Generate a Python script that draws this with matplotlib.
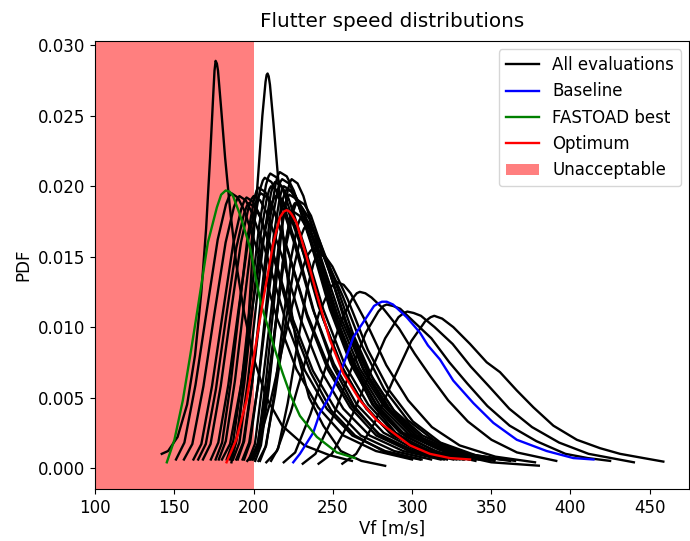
import matplotlib
matplotlib.use("Agg")
import matplotlib.pyplot as plt
from matplotlib.patches import Patch
from matplotlib.lines import Line2D

plt.rcParams['font.size'] = 12

# Unacceptable flutter speed limit [m/s]
vf_limit = 200

# Baseline
baseline_x = [225.0, 229.2, 237.6, 241.8, 248.1, 256.5, 263.0, 271.3, 276.0, 279.0, 281.0, 284.0, 288.0,
              296.6, 305.0, 310.0, 317.6, 326.0, 338.7, 351.3, 366.1, 385.0, 401.8, 414.5]
baseline_y = [0.0004, 0.0010, 0.0025, 0.0039, 0.0051, 0.0073, 0.0093, 0.0107, 0.0115, 0.0117, 0.0118, 0.0118, 0.0116,
              0.0107, 0.0096, 0.0087, 0.0077, 0.0062, 0.0046, 0.0032, 0.0020, 0.0012, 0.0007, 0.0006]

# FASTOAD best
fastoad_x = [145.2, 150.0, 155.3, 160.0, 164.8, 171.1, 176.8, 179.5, 182.4, 185.0, 187.0, 191.3, 197.6, 202.0,
             205.2, 210.2, 214.0, 218.4, 223.5, 229.2, 239.9, 252.5, 263.9]
fastoad_y = [0.0004, 0.0020, 0.0048, 0.0080, 0.0114, 0.0160, 0.0185, 0.0194, 0.0197, 0.0196, 0.0193, 0.0180, 0.0157, 0.0131,
             0.0114, 0.0096, 0.0082, 0.0067, 0.0051, 0.0037, 0.0022, 0.0011, 0.0007]

# Optimum
optimum_x = [182.9, 189.0, 195.5, 201.0, 206.0, 212.3, 216.6, 219.0, 220.8, 222.6, 224.0, 227.1, 233.4, 239.7, 248.1,
             256.6, 267.1, 277.6, 288.1, 298.7, 311.3, 323.9, 336.6]
optimum_y = [0.0004, 0.0020, 0.0048, 0.0085, 0.0119, 0.0159, 0.0178, 0.0182, 0.0183, 0.0182, 0.0180, 0.0174, 0.0150, 0.0124, 0.0091,
             0.0067, 0.0048, 0.0034, 0.0025, 0.0016, 0.0010, 0.0007, 0.0006]

# All evaluations (one x/y pair per evaluation)
eval_a_x = [142, 146, 152, 158, 163, 167, 170, 172.5, 174.5, 175.3, 176, 176.8, 177.5, 179.5, 182, 185, 189, 194,
            200, 208, 218, 232, 248, 262]
eval_a_y = [.0010, .0012, .0022, .0045, .0080, .0125, .0170, .0220, .0265, .0282, .0289, .0287, .0282, .0255, .0220, .0185, .0145, .0110,
            .0078, .0050, .0030, .0016, .0009, .0005]

eval_b_x = [186, 190, 194, 197, 200, 203, 205.5, 207.5, 208.2, 208.8, 209.5, 210.3, 212.5, 215.5, 219, 223, 228, 235,
            244, 255, 268, 283]
eval_b_y = [.0004, .0025, .0065, .0110, .0165, .0210, .0250, .0274, .0279, .0280, .0278, .0272, .0245, .0205, .0160, .0118, .0080, .0050,
            .0030, .0012, .0005, .00015]

eval_l1_x = [151, 156.3, 163.3, 170.3, 177.3, 182.5, 184.6, 186, 190.0, 194, 203.1, 214.5, 227, 240.7, 256.7, 277.2, 300]
eval_l1_y = [.0006, .0018, .0059, .0111, .0162, .0187, .0193, .0195, .0192, .0183, .0152, .0107, .0070, .0043, .0023, .0012, .0006]

eval_l2_x = [156, 161.3, 168.3, 175.3, 182.3, 187.5, 189.6, 191, 195.0, 199, 208.3, 219.8, 232.4, 246.2, 262.3, 283, 306]
eval_l2_y = [.0006, .0017, .0058, .0110, .0160, .0185, .0191, .0193, .0190, .0181, .0151, .0106, .0069, .0042, .0023, .0012, .0006]

eval_l3_x = [162, 167, 173.7, 180.4, 187.1, 192.2, 194.2, 195.5, 199.6, 203.7, 213, 224.6, 237.4, 251.4, 267.7, 288.7, 312]
eval_l3_y = [.0006, .0017, .0058, .0109, .0159, .0184, .0190, .0192, .0189, .0180, .0150, .0106, .0069, .0042, .0023, .0012, .0006]

eval_n1_x = [165, 169.8, 176.2, 182.6, 189, 193.8, 195.7, 197, 200.8, 204.6, 213.2, 224, 235.9, 248.8, 264, 283.4, 305]
eval_n1_y = [.0006, .0017, .0056, .0107, .0156, .0180, .0186, .0188, .0185, .0177, .0147, .0103, .0068, .0041, .0023, .0011, .0006]

eval_l4_x = [168, 172.8, 179.2, 185.6, 192, 196.8, 198.7, 200, 204.1, 208.3, 217.7, 229.5, 242.5, 256.6, 273.2, 294.4, 318]
eval_l4_y = [.0006, .0017, .0058, .0110, .0160, .0185, .0191, .0193, .0190, .0181, .0151, .0106, .0069, .0042, .0023, .0012, .0006]

eval_l5_x = [173, 177.7, 184, 190.3, 196.6, 201.4, 203.2, 204.5, 208.6, 212.7, 222.1, 233.9, 246.8, 260.9, 277.4, 298.5, 322]
eval_l5_y = [.0006, .0018, .0059, .0111, .0162, .0187, .0193, .0195, .0192, .0183, .0152, .0107, .0070, .0043, .0023, .0012, .0006]

eval_p1_x = [176, 180.1, 185.5, 190.9, 196.3, 200.3, 201.9, 203, 207.3, 211.6, 221.5, 233.8, 247.3, 262, 279.3, 301.4, 326]
eval_p1_y = [.0006, .0018, .0060, .0113, .0165, .0191, .0197, .0199, .0196, .0187, .0155, .0109, .0072, .0044, .0024, .0012, .0006]

eval_m1_x = [178, 182.4, 188.2, 194, 199.8, 204.1, 205.8, 207, 211.2, 215.5, 225.2, 237.3, 250.6, 265.1, 282, 303.8, 328]
eval_m1_y = [.0006, .0019, .0062, .0117, .0171, .0198, .0204, .0206, .0203, .0194, .0161, .0113, .0074, .0045, .0025, .0012, .0006]

eval_p6_x = [180, 185.1, 191.9, 198.7, 205.5, 210.6, 212.6, 214, 218.2, 222.3, 231.9, 243.8, 256.8, 271.1, 287.8, 309.2, 333]
eval_p6_y = [.0006, .0017, .0058, .0110, .0160, .0185, .0191, .0193, .0190, .0181, .0151, .0106, .0069, .0042, .0023, .0012, .0006]

eval_m2_x = [183, 187.1, 192.6, 198.1, 203.6, 207.8, 209.4, 210.5, 214.8, 219, 228.7, 240.9, 254.2, 268.8, 285.8, 307.7, 332]
eval_m2_y = [.0006, .0019, .0063, .0119, .0173, .0201, .0207, .0209, .0206, .0196, .0163, .0115, .0075, .0046, .0025, .0013, .0006]

eval_n2_x = [185, 188.9, 194.1, 199.3, 204.5, 208.4, 210, 211, 214.8, 218.6, 227.4, 238.3, 250.2, 263.3, 278.6, 298.2, 320]
eval_n2_y = [.0006, .0018, .0060, .0114, .0166, .0192, .0198, .0200, .0197, .0188, .0156, .0110, .0072, .0044, .0024, .0012, .0006]

eval_m3_x = [187, 191, 196.3, 201.6, 206.9, 210.9, 212.4, 213.5, 217.8, 222.1, 231.9, 244.1, 257.6, 272.3, 289.5, 311.5, 336]
eval_m3_y = [.0006, .0018, .0061, .0116, .0168, .0195, .0201, .0203, .0200, .0191, .0158, .0112, .0073, .0045, .0024, .0012, .0006]

eval_p2_x = [189, 193.4, 199.2, 205, 210.8, 215.1, 216.8, 218, 222.2, 226.4, 236, 248, 261.2, 275.6, 292.4, 314, 338]
eval_p2_y = [.0006, .0018, .0062, .0117, .0170, .0197, .0203, .0205, .0202, .0193, .0160, .0113, .0074, .0045, .0025, .0012, .0006]

eval_m4_x = [190, 194, 199.3, 204.6, 209.9, 213.9, 215.4, 216.5, 220.9, 225.3, 235.3, 247.9, 261.7, 276.7, 294.3, 316.9, 342]
eval_m4_y = [.0006, .0019, .0063, .0120, .0174, .0202, .0208, .0210, .0207, .0197, .0164, .0116, .0076, .0046, .0025, .0013, .0006]

eval_p3_x = [193, 197.2, 202.8, 208.4, 214, 218.2, 219.9, 221, 225.4, 229.9, 240, 252.8, 266.7, 282, 299.7, 322.6, 348]
eval_p3_y = [.0006, .0018, .0059, .0113, .0164, .0190, .0196, .0198, .0195, .0186, .0154, .0109, .0071, .0044, .0024, .0012, .0006]

eval_m5_x = [194, 197.8, 202.8, 207.8, 212.8, 216.5, 218, 219, 223.4, 227.9, 238, 250.8, 264.7, 280, 297.7, 320.6, 346]
eval_m5_y = [.0006, .0018, .0060, .0114, .0166, .0192, .0198, .0200, .0197, .0188, .0156, .0110, .0072, .0044, .0024, .0012, .0006]

eval_m6_x = [197, 200.8, 205.4, 211, 216.1, 220, 221.5, 222.5, 227, 231.6, 241.9, 254.9, 269.1, 284.7, 302.8, 326.1, 352]
eval_m6_y = [.0006, .0017, .0058, .0111, .0161, .0186, .0192, .0194, .0191, .0182, .0151, .0107, .0070, .0043, .0023, .0012, .0006]

eval_p4_x = [198, 202.5, 208.5, 214.5, 220.5, 225, 226.8, 228, 232.1, 236.2, 245.6, 257.3, 270.1, 284.2, 300.5, 321.6, 345]
eval_p4_y = [.0006, .0017, .0057, .0108, .0158, .0182, .0188, .0190, .0187, .0179, .0148, .0105, .0068, .0042, .0023, .0011, .0006]

eval_p8_x = [199, 202.8, 207.8, 212.8, 217.8, 221.5, 223, 224, 227.7, 231.4, 239.9, 250.5, 262.2, 274.9, 289.7, 308.8, 330]
eval_p8_y = [.0006, .0018, .0062, .0117, .0170, .0197, .0203, .0205, .0202, .0193, .0160, .0113, .0074, .0045, .0025, .0012, .0006]

eval_m7_x = [200, 203.9, 209.1, 214.3, 219.5, 223.4, 225, 226, 230.5, 235.1, 245.5, 258.5, 272.8, 288.4, 306.6, 330, 356]
eval_m7_y = [.0006, .0017, .0056, .0107, .0156, .0180, .0186, .0188, .0185, .0177, .0147, .0103, .0068, .0041, .0023, .0011, .0006]

eval_n3_x = [201, 204.6, 209.4, 214.2, 219, 222.6, 224, 225, 229, 233.1, 242.3, 253.8, 266.4, 280.2, 296.3, 317, 340]
eval_n3_y = [.0005, .0016, .0055, .0104, .0151, .0175, .0180, .0182, .0179, .0171, .0142, .0100, .0066, .0040, .0022, .0011, .0005]

eval_p5_x = [203, 207.5, 213.5, 219.5, 225.5, 230, 231.8, 233, 237.2, 241.3, 250.9, 262.8, 275.8, 290.1, 306.8, 328.2, 352]
eval_p5_y = [.0005, .0015, .0052, .0098, .0143, .0165, .0170, .0172, .0169, .0162, .0134, .0095, .0062, .0038, .0021, .0010, .0005]

eval_m8_x = [204, 207.9, 213.1, 218.3, 223.5, 227.4, 229, 230, 234.2, 238.4, 248, 260, 273.2, 287.6, 304.4, 326, 350, 380]
eval_m8_y = [.0005, .0016, .0053, .0101, .0148, .0171, .0176, .0178, .0175, .0167, .0139, .0098, .0064, .0039, .0021, .0010, .0004, .00016]

eval_p7_x = [211, 215.5, 221.5, 227.5, 233.5, 238, 239.8, 241, 245.3, 249.7, 259.6, 272, 285.6, 300.5, 317.9, 340.2, 365]
eval_p7_y = [.0005, .0014, .0046, .0087, .0126, .0146, .0150, .0152, .0150, .0143, .0119, .0084, .0055, .0033, .0018, .0009, .0005]

eval_w1_x = [196, 202.2, 210.6, 218.9, 227.2, 233.4, 235.9, 237.6, 241.9, 246.3, 256.2, 268.7, 282.3, 297.2, 314.6, 337, 361.8]
eval_w1_y = [.0005, .0014, .0047, .0089, .0129, .0150, .0154, .0156, .0154, .0147, .0122, .0086, .0056, .0034, .0019, .0009, .0005]

eval_w2_x = [208, 214.7, 223.5, 232.4, 241.3, 248, 250.6, 252.4, 256.8, 261.2, 271.2, 283.7, 297.5, 312.5, 330, 352.6, 377.6]
eval_w2_y = [.0004, .0012, .0040, .0075, .0110, .0127, .0131, .0132, .0130, .0124, .0103, .0073, .0048, .0029, .0016, .0008, .0004]

eval_w3_x = [219, 226.2, 235.8, 245.4, 255, 262.2, 265.1, 267, 270.5, 274.4, 281.9, 291.8, 301.7, 311.6, 322.8, 335.2, 350.1,
             366.2, 378.6, 391]
eval_w3_y = [.0004, .0011, .0038, .0071, .0104, .0120, .0124, .0125, .0124, .0121, .0113, .0099, .0081, .0065, .0048, .0033, .0020,
             .0011, .0008, .0005]

eval_w4_x = [231, 239, 249.6, 260.2, 270.8, 278.7, 281.9, 284, 288, 292.5, 300.9, 312.2, 323.5, 334.8, 347.5, 361.6, 378.5,
             396.8, 410.9, 425]
eval_w4_y = [.0003, .0010, .0035, .0066, .0096, .0111, .0115, .0116, .0115, .0113, .0104, .0092, .0075, .0060, .0044, .0030, .0019,
             .0010, .0007, .0005]

eval_w5_x = [241, 249.4, 260.6, 271.8, 283, 291.4, 294.8, 297, 301, 305.6, 314.2, 325.6, 337, 348.5, 361.4, 375.7, 392.8,
             411.4, 425.7, 440]
eval_w5_y = [.0003, .0010, .0033, .0063, .0092, .0107, .0110, .0111, .0110, .0108, .0100, .0088, .0072, .0058, .0042, .0029, .0018,
             .0010, .0007, .0004]

eval_w6_x = [256, 264.7, 276.3, 287.9, 299.5, 308.2, 311.7, 314, 319, 326, 336.6, 347.1, 355.5, 366.1, 376.6, 389.2, 404,
             418.7, 431.3, 446.1, 458.6]
eval_w6_y = [.0003, .0010, .0032, .0062, .0090, .0104, .0107, .0108, .0106, .0100, .0088, .0075, .0068, .0055, .0043, .0030, .0020,
             .0014, .0010, .0007, .00045]

evaluations = [
    (eval_a_x, eval_a_y), (eval_b_x, eval_b_y),
    (eval_l1_x, eval_l1_y), (eval_l2_x, eval_l2_y), (eval_l3_x, eval_l3_y),
    (eval_n1_x, eval_n1_y), (eval_l4_x, eval_l4_y), (eval_l5_x, eval_l5_y),
    (eval_p1_x, eval_p1_y), (eval_m1_x, eval_m1_y), (eval_p6_x, eval_p6_y),
    (eval_m2_x, eval_m2_y), (eval_n2_x, eval_n2_y), (eval_m3_x, eval_m3_y),
    (eval_p2_x, eval_p2_y), (eval_m4_x, eval_m4_y), (eval_p3_x, eval_p3_y),
    (eval_m5_x, eval_m5_y), (eval_m6_x, eval_m6_y), (eval_p4_x, eval_p4_y),
    (eval_p8_x, eval_p8_y), (eval_m7_x, eval_m7_y), (eval_n3_x, eval_n3_y),
    (eval_p5_x, eval_p5_y), (eval_m8_x, eval_m8_y), (eval_p7_x, eval_p7_y),
    (eval_w1_x, eval_w1_y), (eval_w2_x, eval_w2_y), (eval_w3_x, eval_w3_y),
    (eval_w4_x, eval_w4_y), (eval_w5_x, eval_w5_y), (eval_w6_x, eval_w6_y),
]

# Plot
fig = plt.figure(figsize=(6.9, 5.41), dpi=100)
ax = fig.add_axes([0.138, 0.096, 0.861, 0.828])

ax.axvspan(100, vf_limit, color='red', alpha=0.5, lw=0)

lw = 1.7
for x, y in evaluations:
    ax.plot(x, y, color='black', lw=lw, solid_joinstyle='round')

ax.plot(baseline_x, baseline_y, color='blue', lw=lw, solid_joinstyle='round')
ax.plot(fastoad_x, fastoad_y, color='green', lw=lw, solid_joinstyle='round')
ax.plot(optimum_x, optimum_y, color='red', lw=lw, solid_joinstyle='round')

ax.set_xlim(100, 475)
ax.set_ylim(-0.0015, 0.0303)
ax.set_yticks([0.0, 0.005, 0.010, 0.015, 0.020, 0.025, 0.030])
ax.set_yticklabels(['0.000', '0.005', '0.010', '0.015', '0.020', '0.025', '0.030'])
ax.set_title('Flutter speed distributions', pad=10)
ax.set_xlabel('Vf [m/s]', labelpad=2)
ax.set_ylabel('PDF')

handles = [Line2D([], [], color='black', lw=lw),
           Line2D([], [], color='blue', lw=lw),
           Line2D([], [], color='green', lw=lw),
           Line2D([], [], color='red', lw=lw),
           Patch(facecolor='red', alpha=0.5)]
labels = ['All evaluations', 'Baseline', 'FASTOAD best', 'Optimum', 'Unacceptable']
ax.legend(handles, labels, loc='upper right')

fig.savefig('out.png', dpi=100)
